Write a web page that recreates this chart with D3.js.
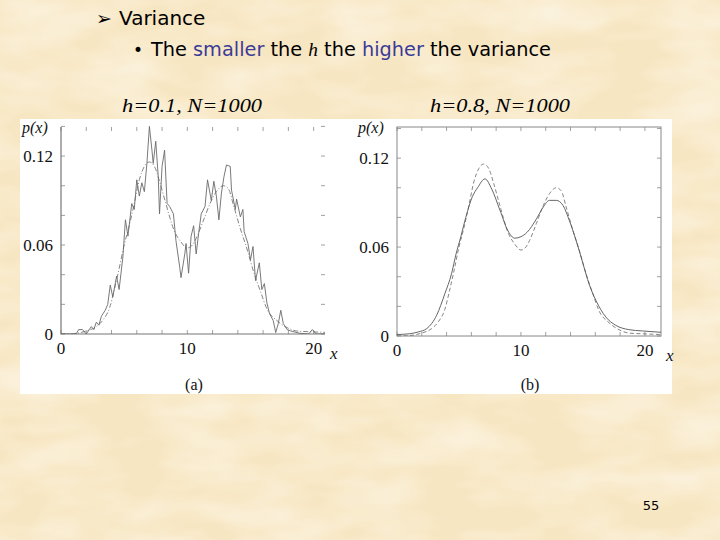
<!DOCTYPE html>
<html>
<head>
<meta charset="utf-8">
<script src="https://cdn.jsdelivr.net/npm/d3@7"></script>
<style>
  html, body { margin: 0; padding: 0; background: #f8e9c8; }
  svg { display: block; }
</style>
</head>
<body>
<svg id="slide" width="720" height="540"></svg>
<script>
// h = 0.1 estimate (panel a)
const estAx = [0, 1.2, 1.4, 1.7, 2.0, 2.4, 2.6, 2.8, 3.0, 3.2, 3.5, 3.7, 3.9, 4.1, 4.4, 4.6, 4.9, 5.1, 5.3, 5.6,
  5.8, 6.0, 6.2, 6.4, 6.6, 6.8, 7.0, 7.2, 7.3, 7.5, 7.7, 7.8, 8.0, 8.2, 8.4, 8.6, 8.9, 9.1, 9.4, 9.5,
  9.8, 9.9, 10.1, 10.3, 10.5, 10.7, 10.9, 11.1, 11.4, 11.6, 11.9, 12.1, 12.3, 12.5, 12.7, 12.9, 13.1, 13.4, 13.5, 13.8,
  13.9, 14.2, 14.4, 14.5, 14.8, 15.0, 15.2, 15.4, 15.7, 15.9, 16.1, 16.3, 16.5, 16.8, 17.0, 17.2, 17.4, 17.6, 17.9, 18.2,
  18.9, 19.6, 19.9, 20.2, 20.9]
const estAy = [0, 0, 0.003, 0.003, 0, 0.005, 0.003, 0.008, 0.006, 0.012, 0.016, 0.02, 0.033, 0.025, 0.039, 0.03, 0.052, 0.077, 0.066, 0.088,
  0.084, 0.104, 0.093, 0.102, 0.096, 0.115, 0.14, 0.124, 0.115, 0.13, 0.106, 0.081, 0.113, 0.124, 0.088, 0.086, 0.081, 0.063, 0.045, 0.038,
  0.054, 0.061, 0.041, 0.066, 0.073, 0.054, 0.068, 0.081, 0.086, 0.104, 0.09, 0.103, 0.093, 0.077, 0.095, 0.106, 0.114, 0.113, 0.097, 0.084,
  0.091, 0.079, 0.084, 0.069, 0.061, 0.05, 0.059, 0.036, 0.048, 0.03, 0.034, 0.021, 0.014, 0.009, 0.001, 0.007, 0.016, 0.007, 0.003, 0.002,
  0.0005, 0, 0.003, 0, 0]

// h = 0.8 estimate (panel b)
const estBx = [0, 1, 1.7, 2.4, 3.2, 3.86, 4.4, 4.77, 5.15, 5.55, 6.08, 6.5, 7.1, 7.65, 8.3, 8.95, 9.5, 10.0, 10.5, 11.25,
  11.8, 12.3, 12.85, 13.4, 13.9, 14.45, 15.0, 15.5, 16.05, 16.85, 17.65, 18.7, 19.8, 21.3]
const estBy = [0.001, 0.0015, 0.0027, 0.005, 0.014, 0.0285, 0.042, 0.0555, 0.067, 0.08, 0.094, 0.1, 0.106, 0.099, 0.085, 0.071, 0.066, 0.067, 0.07, 0.079,
  0.087, 0.0915, 0.0915, 0.088, 0.078, 0.0645, 0.049, 0.035, 0.024, 0.0128, 0.0072, 0.0043, 0.0034, 0.0025]

// true density (dashed / dash-dotted in both panels)
const trueX = [0, 1, 2, 2.8, 3.33, 3.86, 4.25, 4.6, 5.0, 5.4, 5.8, 6.2, 6.6, 7.0, 7.4, 7.8, 8.3, 8.95, 9.5, 10.0,
  10.4, 10.7, 11.25, 11.8, 12.3, 12.85, 13.25, 13.65, 14.2, 14.7, 15.25, 15.8, 16.3, 17.1, 17.9, 18.7, 19.8, 21.3]
const trueY = [0, 0.0003, 0.002, 0.005, 0.0095, 0.018, 0.031, 0.044, 0.06, 0.073, 0.088, 0.104, 0.113, 0.116, 0.113, 0.103, 0.088, 0.07, 0.062, 0.058,
  0.06, 0.0645, 0.076, 0.088, 0.096, 0.1, 0.098, 0.087, 0.071, 0.058, 0.042, 0.0285, 0.017, 0.009, 0.0043, 0.002, 0.0015, 0.001]

const xTickLabels = [0, 10, 20]
const yTickLabels = [0, 0.06, 0.12]
const xMinorTicks = d3.range(0, 21, 2)
const yMinorTicks = d3.range(0, 0.1401, 0.02)

const svg = d3.select('#slide')

// parchment background
const defs = svg.append('defs')
const f = defs.append('filter').attr('id', 'paper')
	.attr('x', 0).attr('y', 0).attr('width', '100%').attr('height', '100%')
f.append('feTurbulence').attr('type', 'fractalNoise')
	.attr('baseFrequency', '0.012 0.03').attr('numOctaves', 3).attr('seed', 4)
f.append('feColorMatrix').attr('type', 'matrix')
	.attr('values', '0 0 0 0 1  0 0 0 0 0.98  0 0 0 0 0.92  0 0 0 -1.6 1.05')
f.append('feComposite').attr('in2', 'SourceGraphic').attr('operator', 'in')

svg.append('rect').attr('width', 720).attr('height', 540).attr('fill', '#f7e6c2')
svg.append('rect').attr('width', 720).attr('height', 540).attr('fill', '#fff')
	.attr('filter', 'url(#paper)').attr('opacity', 0.6)

// slide text
const sans = '"DejaVu Sans", Verdana, sans-serif'
const serif = '"Liberation Serif", "Times New Roman", serif'

svg.append('text').attr('x', 96).attr('y', 25)
	.style('font-family', sans).style('font-size', '19px').text('\u27A2')
svg.append('text').attr('x', 119).attr('y', 25)
	.style('font-family', sans).style('font-size', '20px').attr('fill', '#000').text('Variance')

svg.append('text').attr('x', 133).attr('y', 56)
	.style('font-family', sans).style('font-size', '17px').text('\u2022')

const line2 = svg.append('text').attr('x', 151).attr('y', 56)
	.style('font-family', sans).style('font-size', '19px').attr('fill', '#000')
	.attr('textLength', 400).attr('lengthAdjust', 'spacingAndGlyphs')
line2.append('tspan').text('The ')
line2.append('tspan').attr('fill', '#3b3b98').text('smaller')
line2.append('tspan').text(' the ')
line2.append('tspan').style('font-family', serif).style('font-style', 'italic').text('h')
line2.append('tspan').text(' the ')
line2.append('tspan').attr('fill', '#3b3b98').text('higher')
line2.append('tspan').text(' the variance')

const subs = [['h=0.1, N=1000', 122], ['h=0.8, N=1000', 430]]
subs.forEach(([t, x]) => {
	svg.append('text').attr('x', x).attr('y', 112)
		.style('font-family', serif).style('font-style', 'italic').style('font-size', '19px')
		.attr('textLength', 140).attr('lengthAdjust', 'spacingAndGlyphs')
		.text(t)
})

svg.append('text').attr('x', 651).attr('y', 510).attr('text-anchor', 'middle')
	.style('font-family', sans).style('font-size', '13px').text('55')

// white figure area
svg.append('rect').attr('x', 20).attr('y', 119).attr('width', 652).attr('height', 275).attr('fill', '#fff')

function panel(opts) {
	const { x, y, id, frame, est, trueDash, label } = opts
	const g = svg.append('g')
	const [x0, x1] = x.range()
	const [y0, y1] = y.range()

	g.append('clipPath').attr('id', id).append('rect')
		.attr('x', x0).attr('y', y1 - 2).attr('width', x1 - x0).attr('height', y0 - y1 + 2)

	// ticks (inward) on all sides
	const tick = 4
	const tk = g.append('g').attr('stroke', '#888').attr('stroke-width', 0.8)
	xMinorTicks.forEach(v => {
		tk.append('line').attr('x1', x(v)).attr('x2', x(v)).attr('y1', y0).attr('y2', y0 - tick)
		tk.append('line').attr('x1', x(v)).attr('x2', x(v)).attr('y1', y1).attr('y2', y1 + tick)
	})
	yMinorTicks.forEach(v => {
		tk.append('line').attr('x1', x0).attr('x2', x0 + tick).attr('y1', y(v)).attr('y2', y(v))
		tk.append('line').attr('x1', x1).attr('x2', x1 - tick).attr('y1', y(v)).attr('y2', y(v))
	})

	if (frame) {
		g.append('rect').attr('x', x0).attr('y', y1).attr('width', x1 - x0).attr('height', y0 - y1)
			.attr('fill', 'none').attr('stroke', '#888').attr('stroke-width', 1)
	} else {
		g.append('path').attr('d', `M${x0},${y1}V${y0}H${x1}`)
			.attr('fill', 'none').attr('stroke', '#777').attr('stroke-width', 1.2)
	}

	const smooth = d3.line().x(d => x(d[0])).y(d => y(d[1])).curve(d3.curveMonotoneX)
	const rough = d3.line().x(d => x(d[0])).y(d => y(d[1]))

	const curves = g.append('g').attr('clip-path', `url(#${id})`).attr('fill', 'none')
	curves.append('path').attr('d', smooth(d3.zip(trueX, trueY)))
		.attr('stroke', '#777').attr('stroke-width', 0.9).attr('stroke-dasharray', trueDash)
	curves.append('path').attr('d', (opts.roughEst ? rough : smooth)(d3.zip(est[0], est[1])))
		.attr('stroke', opts.estColor).attr('stroke-width', 0.9)

	// labels
	const lab = g.append('g').style('font-family', serif).attr('fill', '#111')
	xTickLabels.forEach(v => {
		lab.append('text').attr('x', x(v)).attr('y', y0 + 20).attr('text-anchor', 'middle')
			.style('font-size', '17px').text(v)
	})
	yTickLabels.forEach(v => {
		lab.append('text').attr('x', x0 - 8).attr('y', y(v) + 6).attr('text-anchor', 'end')
			.style('font-size', '17px').text(v === 0 ? '0' : v.toFixed(2))
	})
	lab.append('text').attr('x', x0 - 39).attr('y', 133)
		.style('font-size', '16px').style('font-style', 'italic').text('p(x)')
	lab.append('text').attr('x', x1 + 5).attr('y', y0 + 25)
		.style('font-size', '17px').style('font-style', 'italic').text('x')
	lab.append('text').attr('x', (x0 + x1) / 2 + 1).attr('y', 390).attr('text-anchor', 'middle')
		.style('font-size', '16px').text(label)
}

panel({
	id: 'clipA',
	x: d3.scaleLinear().domain([0, 20.9]).range([61, 325]),
	y: d3.scaleLinear().domain([0, 0.1396]).range([334, 127]),
	frame: false,
	est: [estAx, estAy],
	estColor: '#6a6a6a',
	roughEst: true,
	trueDash: '5,2,1,2',
	label: '(a)'
})

panel({
	id: 'clipB',
	x: d3.scaleLinear().domain([0, 21.3]).range([397, 661]),
	y: d3.scaleLinear().domain([0, 0.141]).range([336, 127]),
	frame: true,
	est: [estBx, estBy],
	estColor: '#555',
	roughEst: false,
	trueDash: '4,2.5',
	label: '(b)'
})
</script>
</body>
</html>
